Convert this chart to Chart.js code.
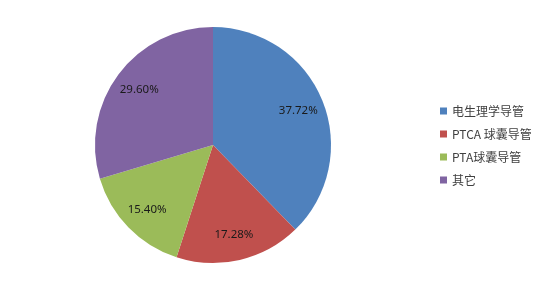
<!DOCTYPE html>
<html>
<head>
<meta charset="utf-8">
<script src="https://cdn.jsdelivr.net/npm/chart.js@4/dist/chart.umd.min.js"></script>
<style>
  html, body { margin: 0; padding: 0; background: #ffffff; }
  #wrap { width: 540px; height: 291px; }
</style>
</head>
<body>
<div id="wrap"><canvas id="c" width="540" height="291"></canvas></div>
<script>
// Market share by product type (percent)
const categories = ['电生理学导管', 'PTCA 球囊导管', 'PTA球囊导管', '其它'];
const shares = [37.72, 17.28, 15.40, 29.60];
const sliceColors = ['#4F81BD', '#C0504D', '#9BBB59', '#8064A2'];

// Percent labels placed inside each slice
const sliceLabels = {
  id: 'sliceLabels',
  afterDatasetsDraw(chart) {
    const ctx = chart.ctx;
    const meta = chart.getDatasetMeta(0);
    ctx.save();
    ctx.font = '11.5px "Noto Sans", sans-serif';
    ctx.fillStyle = '#1a1a1a';
    ctx.textAlign = 'center';
    ctx.textBaseline = 'middle';
    meta.data.forEach((arc, i) => {
      const p = arc.getProps(['x', 'y', 'startAngle', 'endAngle', 'outerRadius'], true);
      const mid = (p.startAngle + p.endAngle) / 2;
      const r = p.outerRadius * 0.78;
      const v = chart.data.datasets[0].data[i];
      ctx.fillText(v.toFixed(2) + '%', p.x + Math.cos(mid) * r, p.y + Math.sin(mid) * r);
    });
    ctx.restore();
  }
};

// Legend drawn to the right of the pie
const sideLegend = {
  id: 'sideLegend',
  afterDraw(chart) {
    const ctx = chart.ctx;
    const ds = chart.data.datasets[0];
    const x0 = 440, y0 = 111, step = 23;
    ctx.save();
    ctx.font = '12px "Noto Sans CJK SC", "Noto Sans", sans-serif';
    ctx.textBaseline = 'middle';
    ctx.textAlign = 'left';
    chart.data.labels.forEach((lab, i) => {
      const y = y0 + i * step;
      ctx.fillStyle = ds.backgroundColor[i];
      ctx.fillRect(x0, y - 3.5, 7, 7);
      ctx.fillStyle = '#404040';
      ctx.fillText(lab, x0 + 12, y);
    });
    ctx.restore();
  }
};

new Chart(document.getElementById('c'), {
  type: 'pie',
  data: {
    labels: categories,
    datasets: [{
      data: shares,
      backgroundColor: sliceColors,
      borderWidth: 0
    }]
  },
  options: {
    responsive: false,
    animation: false,
    layout: { padding: { left: 95, right: 209, top: 27, bottom: 28 } },
    plugins: {
      legend: { display: false },
      tooltip: { enabled: false }
    }
  },
  plugins: [sliceLabels, sideLegend]
});
</script>
</body>
</html>
